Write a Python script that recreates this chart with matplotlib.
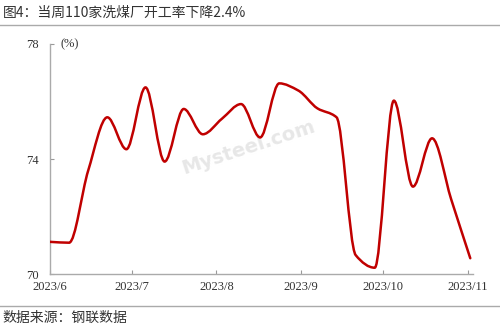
import numpy as np
import pandas as pd
import matplotlib
matplotlib.use("Agg")
import matplotlib.pyplot as plt
import matplotlib.dates as mdates
from matplotlib.path import Path
from matplotlib.patches import PathPatch

# weekly operating rate of 110 coal washing plants (%)
dates = pd.date_range("2023-06-01", periods=23, freq="7D")
rates = [71.12, 71.09, 73.6, 75.45, 74.34, 76.49, 73.91, 75.74, 74.86, 75.4,
         75.91, 74.75, 76.63, 76.38, 75.76, 75.45, 70.66, 70.22, 76.03, 73.04,
         74.72, 72.6, 70.55]
tick_dates = pd.date_range("2023-06-01", "2023-11-01", freq="MS")
tick_labels = ["2023/6", "2023/7", "2023/8", "2023/9", "2023/10", "2023/11"]
y_ticks = [70, 74, 78]

title = "图4：当周110家洗煤厂开工率下降2.4%"
source = "数据来源：钢联数据"

cjk = ["Noto Sans CJK SC", "DejaVu Sans"]
serif = "Liberation Serif"

fig = plt.figure(figsize=(5, 3.33), dpi=100)
ax = fig.add_axes([0.1, 0.177, 0.846, 0.691])

# smooth line: monotone cubic (Fritsch-Carlson) drawn as bezier segments
x = mdates.date2num(dates)
y = np.array(rates)
h = np.diff(x)
d = np.diff(y) / h
m = np.zeros_like(y)
m[0], m[-1] = d[0], d[-1]
for k in range(1, len(y) - 1):
    if d[k - 1] * d[k] > 0:
        w1 = 2 * h[k] + h[k - 1]
        w2 = h[k] + 2 * h[k - 1]
        m[k] = (w1 + w2) / (w1 / d[k - 1] + w2 / d[k])
verts = [(x[0], y[0])]
codes = [Path.MOVETO]
for k in range(len(y) - 1):
    verts += [(x[k] + h[k] / 3, y[k] + m[k] * h[k] / 3),
              (x[k + 1] - h[k] / 3, y[k + 1] - m[k + 1] * h[k] / 3),
              (x[k + 1], y[k + 1])]
    codes += [Path.CURVE4] * 3
ax.add_patch(PathPatch(Path(verts, codes), fill=False, edgecolor="#C00000",
                       linewidth=1.8, capstyle="round", joinstyle="round", zorder=3))

ax.set_xlim(mdates.date2num(pd.Timestamp("2023-06-01")),
            mdates.date2num(pd.Timestamp("2023-11-03")))
ax.set_ylim(70, 78)
ax.set_xticks(mdates.date2num(tick_dates))
ax.set_xticklabels(tick_labels, fontfamily=serif, fontsize=9, color="#333333")
ax.set_yticks(y_ticks)
ax.set_yticklabels([str(v) for v in y_ticks], fontfamily=serif, fontsize=9,
                   color="#333333")
ax.tick_params(axis="both", direction="in", length=3, color="#999999", width=0.8)
ax.tick_params(axis="x", pad=5)
ax.tick_params(axis="y", pad=8)

for s in ["top", "right"]:
    ax.spines[s].set_visible(False)
for s in ["left", "bottom"]:
    ax.spines[s].set_color("#aaaaaa")
    ax.spines[s].set_linewidth(1.0)

ax.text(0.025, 1.0, "(%)", transform=ax.transAxes, fontfamily=serif,
        fontsize=9, color="#333333", va="center", ha="left")

# faint watermark
ax.text(0.47, 0.55, "Mysteel.com", transform=ax.transAxes, fontsize=14,
        fontweight="bold", color="#d0d0d0", alpha=0.5, rotation=18,
        ha="center", va="center", zorder=1)

fig.text(0.005, 0.962, title, fontfamily=cjk, fontsize=10, color="#333333",
         va="center", ha="left")
fig.text(0.005, 0.045, source, fontfamily=cjk, fontsize=10, color="#333333",
         va="center", ha="left")
fig.add_artist(plt.Line2D([0, 1], [0.925, 0.925], transform=fig.transFigure,
                          color="#aaaaaa", linewidth=1.0))
fig.add_artist(plt.Line2D([0, 1], [0.08, 0.08], transform=fig.transFigure,
                          color="#aaaaaa", linewidth=1.0))

fig.savefig("out.png", dpi=100, facecolor="white")
